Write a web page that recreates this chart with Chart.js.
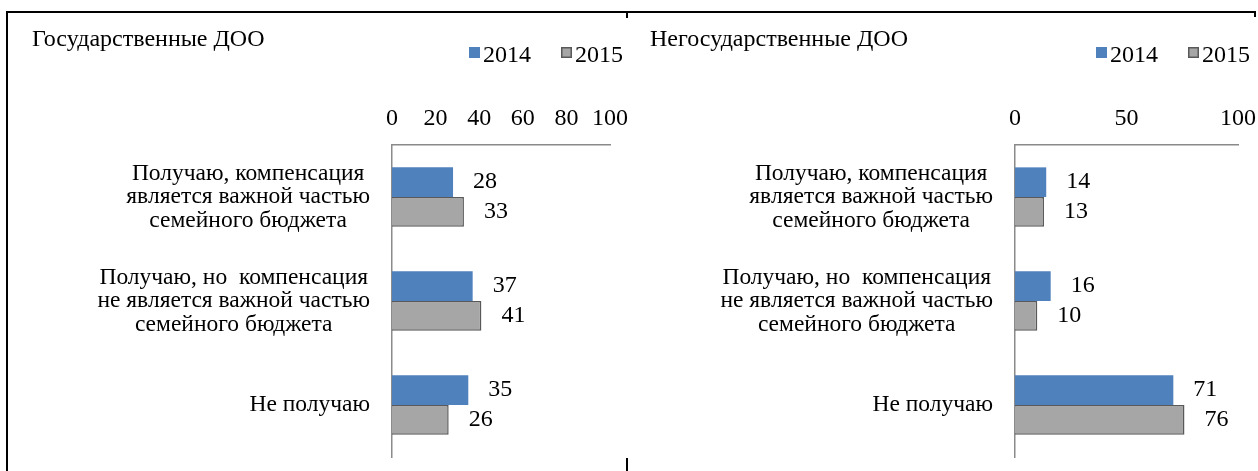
<!DOCTYPE html>
<html><head><meta charset="utf-8">
<script src="https://cdn.jsdelivr.net/npm/chart.js@4.4.1/dist/chart.umd.min.js"></script>
<style>
html,body{margin:0;padding:0;background:#fff;}
#wrap{position:relative;width:1258px;height:471px;overflow:hidden;background:#fff;}
canvas{position:absolute;top:0;}
.ln{position:absolute;background:#000;}
</style></head><body>
<div id="wrap">
<canvas id="c1" width="628" height="471" style="left:0"></canvas>
<canvas id="c2" width="630" height="471" style="left:628px"></canvas>
<div class="ln" style="left:6px;top:11px;width:1250px;height:2px"></div>
<div class="ln" style="left:6px;top:11px;width:2px;height:460px"></div>
<div class="ln" style="left:626px;top:11px;width:2px;height:7px"></div>
<div class="ln" style="left:626px;top:458px;width:2px;height:13px"></div>
<div class="ln" style="left:1254px;top:11px;width:2px;height:6px"></div>
</div>
<script>
// ---- data ----
const categories = [
  ["Получаю, компенсация", "является важной частью", "семейного бюджета"],
  ["Получаю, но  компенсация", "не является важной частью", "семейного бюджета"],
  ["Не получаю"]
];
const seriesNames = ["2014", "2015"];
const state2014 = [28, 37, 35];
const state2015 = [33, 41, 26];
const private2014 = [14, 16, 71];
const private2015 = [13, 10, 76];
const stateTicks = [0, 20, 40, 60, 80, 100];
const privateTicks = [0, 50, 100];
const titles = ["Государственные ДОО", "Негосударственные ДОО"];

const FONT = "'Liberation Serif','Times New Roman',serif";

const catLabelPlugin = {
  id: 'catLabels',
  afterDraw(chart, args, opts) {
    const ctx = chart.ctx, ys = chart.scales.y;
    ctx.save();
    ctx.font = opts.size + 'px ' + FONT;
    ctx.fillStyle = '#000';
    ctx.textAlign = 'center';
    ctx.textBaseline = 'alphabetic';
    const right = chart.chartArea.left - opts.gap;
    chart.data.labels.forEach((lines, i) => {
      const arr = Array.isArray(lines) ? lines : [lines];
      const w = Math.max(...arr.map(s => ctx.measureText(s).width));
      const cx = right - w / 2;
      const cy = ys.getPixelForTick(i);
      arr.forEach((s, k) => {
        const y = cy + opts.baseShift + (k - (arr.length - 1) / 2) * opts.lineHeight;
        ctx.fillText(s, cx, y);
      });
    });
    ctx.restore();
  }
};

const valueLabelPlugin = {
  id: 'valueLabels',
  afterDatasetsDraw(chart, args, opts) {
    const ctx = chart.ctx;
    ctx.save();
    ctx.font = '24px ' + FONT;
    ctx.fillStyle = '#000';
    ctx.textAlign = 'left';
    ctx.textBaseline = 'middle';
    chart.data.datasets.forEach((ds, di) => {
      chart.getDatasetMeta(di).data.forEach((bar, i) => {
        ctx.fillText(String(ds.data[i]), bar.x + opts.offset, bar.y);
      });
    });
    ctx.restore();
  }
};

const legendPlugin = {
  id: 'boxLegend',
  afterDraw(chart, args, opts) {
    const ctx = chart.ctx;
    ctx.save();
    ctx.font = '24px ' + FONT;
    ctx.textBaseline = 'alphabetic';
    ctx.textAlign = 'left';
    const items = chart.data.datasets.map(ds => ({
      text: ds.label, fill: ds.backgroundColor,
      stroke: ds.borderWidth ? ds.borderColor : null,
      w: ctx.measureText(ds.label).width
    }));
    const box = 11, gap = 3, itemGap = 30;
    const total = items.reduce((s, it) => s + box + gap + it.w, 0) + itemGap * (items.length - 1);
    let x = opts.right - total;
    items.forEach(it => {
      ctx.fillStyle = it.fill;
      ctx.fillRect(x, opts.boxTop, box, box);
      if (it.stroke) {
        ctx.strokeStyle = it.stroke; ctx.lineWidth = 1.5;
        ctx.strokeRect(x + 0.75, opts.boxTop + 0.75, box - 1.5, box - 1.5);
      }
      ctx.fillStyle = '#000';
      ctx.fillText(it.text, x + box + gap, opts.baseline);
      x += box + gap + it.w + itemGap;
    });
    ctx.restore();
  }
};

function makeChart(id, vals14, vals15, ticks, title, cfg) {
  return new Chart(document.getElementById(id), {
    type: 'bar',
    data: {
      labels: categories,
      datasets: [
        { label: seriesNames[0], data: vals14, backgroundColor: '#4f81bd', borderWidth: 0 },
        { label: seriesNames[1], data: vals15, backgroundColor: '#a6a6a6', borderColor: '#595959', borderWidth: 1.5 }
      ]
    },
    options: {
      indexAxis: 'y', responsive: false, animation: false,
      layout: { padding: { left: cfg.padLeft, right: cfg.padRight, top: 0, bottom: 14 } },
      datasets: { bar: { categoryPercentage: 0.57, barPercentage: 1 } },
      scales: {
        x: {
          position: 'top', min: 0, max: 100,
          grid: { display: false, drawTicks: false },
          border: { display: true, color: '#8a8a8a', width: 1.5 },
          ticks: { font: { family: FONT, size: 24 }, color: '#000', padding: 12, maxRotation: 0 },
          afterBuildTicks: s => { s.ticks = ticks.map(v => ({ value: v })); },
          afterFit: s => { s.height = cfg.xHeight; s.paddingLeft = 0; s.paddingRight = 0; }
        },
        y: {
          grid: { display: false, drawTicks: false },
          border: { display: true, color: '#8a8a8a', width: 1.5 },
          ticks: { display: false },
          afterFit: s => { s.width = cfg.yWidth; }
        }
      },
      plugins: {
        legend: { display: false },
        tooltip: { enabled: false },
        title: {
          display: true, text: title, align: 'start', color: '#000',
          font: { family: FONT, size: 24, weight: 'normal' },
          padding: { top: 25, bottom: 0 }
        },
        catLabels: { gap: 22, lineHeight: 23.5, baseShift: 6, size: 23.5 },
        valueLabels: { offset: 20 },
        boxLegend: { right: cfg.legendRight, boxTop: 47, baseline: 62 }
      }
    },
    plugins: [catLabelPlugin, valueLabelPlugin, legendPlugin]
  });
}

makeChart('c1', state2014, state2015, stateTicks, titles[0],
  { padLeft: 32, padRight: 18, yWidth: 360, xHeight: 91.2, legendRight: 623 });
makeChart('c2', private2014, private2015, privateTicks, titles[1],
  { padLeft: 22, padRight: 20, yWidth: 365, xHeight: 91.2, legendRight: 622 });
</script>
</body></html>
